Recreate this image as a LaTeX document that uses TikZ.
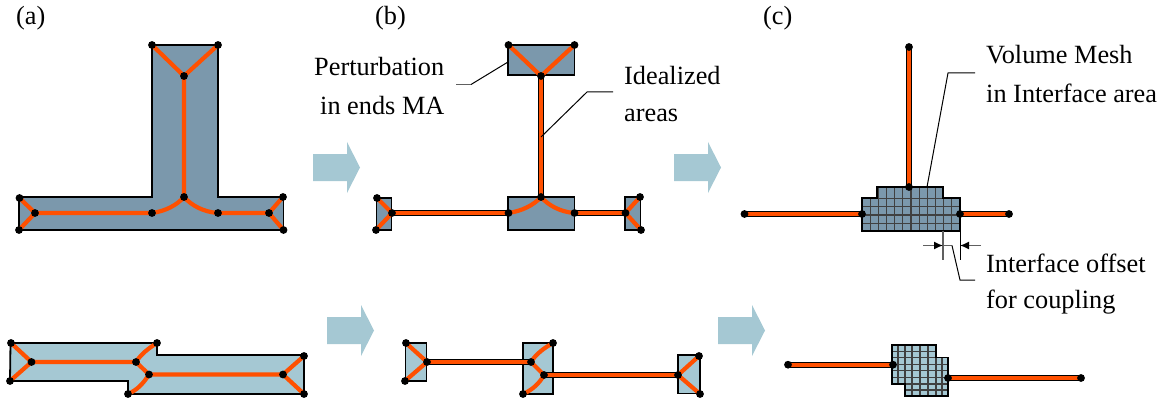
\documentclass[tikz,border=0pt]{standalone}
\usepackage{fontspec}
\setmainfont{Liberation Serif}
\usetikzlibrary{arrows.meta}
\definecolor{darkfill}{HTML}{7B98AC}
\definecolor{lightfill}{HTML}{A5C8D3}
\definecolor{flowcol}{HTML}{A5C8D3}
\definecolor{ma}{HTML}{FF5000}
\definecolor{leadgray}{HTML}{606060}
\tikzset{
  bodyd/.style={draw=black,line width=1.8pt,fill=darkfill},
  bodyl/.style={draw=black,line width=1.8pt,fill=lightfill},
  maline/.style={draw=ma,line width=4.2pt},
  idealout/.style={draw=black,line width=6.4pt},
  idealin/.style={draw=ma,line width=4.4pt},
  leader/.style={draw=black,line width=1pt},
  gridline/.style={draw=black!75,line width=1.2pt},
  dimgray/.style={draw=leadgray,line width=1.4pt},
  lab/.style={anchor=base west,inner sep=0pt,font=\fontsize{26.3}{30}\selectfont},
  flow/.style={fill=flowcol,draw=none},
}
\newcommand{\flowarrow}[2]{\fill[flow] (#1,#2-13.5) -- ++(34,0) -- ++(0,-12) -- ++(13,25.5) -- ++(-13,25.5) -- ++(0,-12) -- ++(-34,0) -- cycle;}
\newcommand{\madots}[1]{\foreach \n in {#1} \fill[black] (\n) circle (3.9pt);}
\begin{document}
\begin{tikzpicture}[x=1pt,y=-1pt]
\useasboundingbox (0,0) rectangle (1164,401);
% labels
\node[lab] (la) at (16,25) {(a)};
\node[lab] (lb) at (375,25) {(b)};
\node[lab] (lc) at (763,25) {(c)};
\node[lab] (t1) at (314,76) {Perturbation};
\node[lab] (t2) at (320,114) {in ends MA};
\node[lab] (t3) at (624,85) {Idealized};
\node[lab] (t4) at (624,122) {areas};
\node[lab] (t5) at (986,64) {Volume Mesh};
\node[lab] (t6) at (986,103) {in Interface area};
\node[lab] (t7) at (986,272) {Interface offset};
\node[lab] (t8) at (986,308) {for coupling};
% flow arrows
\flowarrow{313}{167.5}
\flowarrow{674}{167.5}
\flowarrow{327}{330.5}
\flowarrow{718}{330.5}
% (a) top
\coordinate (a1) at (152,45); \coordinate (a2) at (218,45); \coordinate (a3) at (184,76);
\coordinate (a4) at (184,197); \coordinate (a5) at (19.5,198); \coordinate (a6) at (19,230);
\coordinate (a7) at (35,213); \coordinate (a8) at (152,213); \coordinate (a9) at (218,213);
\coordinate (a10) at (269,213); \coordinate (a11) at (283,197); \coordinate (a12) at (283.5,230);
\draw[bodyd] (152,45) -- (218,45) -- (218,197) -- (283.5,197) -- (283.5,230) -- (19,230) -- (19,197) -- (152,197) -- cycle;
\draw[maline] (a1) -- (a3) -- (a2) (a3) -- (a4);
\draw[maline] (a5) -- (a7) -- (a6) (a7) -- (a8);
\draw[maline] (a8) .. controls (166,211) and (177,205) .. (a4);
\draw[maline] (a4) .. controls (191,205) and (203,212) .. (a9) -- (a10);
\draw[maline] (a11) -- (a10) -- (a12);
\madots{a1,a2,a3,a4,a5,a6,a7,a8,a9,a10,a11,a12}
% (b) top
\draw[bodyd] (508,45) rectangle (574.5,75);
\draw[bodyd] (508,197) rectangle (574.5,230);
\draw[bodyd] (376.5,198) rectangle (391.5,230);
\draw[bodyd] (625,197) rectangle (640.5,230);
\coordinate (b1) at (508.5,45); \coordinate (b2) at (574.5,45); \coordinate (b3) at (541,76);
\coordinate (b4) at (541,197); \coordinate (b5) at (508.5,213); \coordinate (b6) at (574.5,213);
\coordinate (b7) at (377,198); \coordinate (b8) at (376,230); \coordinate (b9) at (392,213);
\coordinate (b10) at (640,197); \coordinate (b11) at (641,230); \coordinate (b12) at (625.5,213);
\draw[idealout] (b3) -- (b4) (b9) -- (b5) (b6) -- (b12);
\draw[idealin] (b3) -- (b4) (b9) -- (b5) (b6) -- (b12);
\draw[maline] (b1) -- (b3) -- (b2);
\draw[maline] (b5) .. controls (522,211) and (534,205) .. (b4);
\draw[maline] (b4) .. controls (548,205) and (560,212) .. (b6);
\draw[maline] (b7) -- (b9) -- (b8) (b10) -- (b12) -- (b11);
\madots{b1,b2,b3,b4,b5,b6,b7,b8,b9,b10,b11,b12}
\coordinate (p1) at (508,62); \coordinate (p2) at (471,84.5); \coordinate (p3) at (455.5,84.5);
\draw[leader] (p1) -- (p2);
\draw[draw=leadgray,line width=1.2pt] (p2) -- (p3);
\coordinate (i1) at (541,137); \coordinate (i2) at (587,92); \coordinate (i3) at (613,92);
\draw[leader] (i1) -- (i2) -- (i3);
% (c) top
\coordinate (c1) at (909,47); \coordinate (c2) at (909,187); \coordinate (c3) at (744.5,214);
\coordinate (c4) at (862,214); \coordinate (c5) at (960,214); \coordinate (c6) at (1009,214);
\draw[idealout] (c1) -- (c2) (c3) -- (c4) (c5) -- (c6);
\draw[idealin] (c1) -- (c2) (c3) -- (c4) (c5) -- (c6);
\fill[darkfill] (877,187) -- (943,187) -- (943,198) -- (960,198) -- (960,231) -- (862,231) -- (862,198) -- (877,198) -- cycle;
\begin{scope}
\clip (877,187) -- (943,187) -- (943,198) -- (960,198) -- (960,231) -- (862,231) -- (862,198) -- (877,198) -- cycle;
\foreach \k in {1,...,11} \draw[gridline] ({862+\k*8.17},187) -- ({862+\k*8.17},231);
\foreach \yy in {198.3,206.7,215,223.3} \draw[gridline] (862,\yy) -- (960,\yy);
\end{scope}
\draw[draw=black,line width=1.8pt] (877,187) -- (943,187) -- (943,198) -- (960,198) -- (960,231) -- (862,231) -- (862,198) -- (877,198) -- cycle;
\madots{c1,c2,c3,c4,c5,c6}
\coordinate (v1) at (927,187); \coordinate (v2) at (948,73); \coordinate (v3) at (975,73);
\draw[leader] (v1) -- (v2) -- (v3);
% dimension
\coordinate (d1) at (943,231); \coordinate (d2) at (943,259.5);
\coordinate (d3) at (960,231); \coordinate (d4) at (960,259.5);
\coordinate (d5) at (923,245.5); \coordinate (d6) at (943,245.5);
\coordinate (d7) at (981,245.5); \coordinate (d8) at (960,245.5);
\coordinate (d9) at (952,245.5); \coordinate (d10) at (960,280); \coordinate (d11) at (975,280);
\draw[dimgray] (d1) -- (d2);
\draw[leader] (d3) -- (d4);
\draw[dimgray,-{Latex[length=9pt,width=8pt,black]}] (d5) -- (d6);
\draw[dimgray,-{Latex[length=9pt,width=8pt,black]}] (d7) -- (d8);
\draw[dimgray] (d6) -- (d9);
\draw[leader] (d9) -- (d10) -- (d11);
% (a) bottom
\draw[bodyl] (10.5,343) -- (157,343) -- (157,355) -- (304,355) -- (304,394) -- (128,394) -- (128,381) -- (10,381) -- cycle;
\coordinate (e1) at (11,343); \coordinate (e2) at (10,381); \coordinate (e3) at (31.5,362);
\coordinate (e4) at (136,362); \coordinate (e5) at (157,343); \coordinate (e6) at (149,374.5);
\coordinate (e7) at (128,394); \coordinate (e8) at (283,374.5); \coordinate (e9) at (304,356);
\coordinate (e10) at (304,394);
\draw[maline] (e1) -- (e3) -- (e2) (e3) -- (e4) -- (e6) -- (e8);
\draw[maline] (e4) .. controls (141,354) and (149,348) .. (e5);
\draw[maline] (e6) .. controls (143,384) and (137,390) .. (e7);
\draw[maline] (e9) -- (e8) -- (e10);
\madots{e1,e2,e3,e4,e5,e6,e7,e8,e9,e10}
% (b) bottom
\draw[bodyl] (405.5,343) rectangle (426.5,381);
\draw[bodyl] (523,343) rectangle (553,394);
\draw[bodyl] (678,355) rectangle (700,393.5);
\coordinate (f1) at (406,343); \coordinate (f2) at (405,381); \coordinate (f3) at (427,362);
\coordinate (f4) at (531,362); \coordinate (f5) at (553,343); \coordinate (f6) at (544,375);
\coordinate (f7) at (523,394); \coordinate (f8) at (678,375); \coordinate (f9) at (699,356);
\coordinate (f10) at (700,394);
\draw[idealout] (f3) -- (f4) (f6) -- (f8);
\draw[idealin] (f3) -- (f4) (f6) -- (f8);
\draw[maline] (f1) -- (f3) -- (f2) (f4) -- (f6);
\draw[maline] (f4) .. controls (536,354) and (544,348) .. (f5);
\draw[maline] (f6) .. controls (539,384) and (532,390) .. (f7);
\draw[maline] (f9) -- (f8) -- (f10);
\madots{f1,f2,f3,f4,f5,f6,f7,f8,f9,f10}
% (c) bottom
\coordinate (g1) at (788,364.7); \coordinate (g2) at (893,364.7);
\coordinate (g3) at (948,378); \coordinate (g4) at (1081,378);
\draw[idealout] (g1) -- (g2) (g3) -- (g4);
\draw[idealin] (g1) -- (g2) (g3) -- (g4);
\fill[lightfill] (892,345) -- (936,345) -- (936,357.5) -- (948,357.5) -- (948,396) -- (905,396) -- (905,384) -- (892,384) -- cycle;
\begin{scope}
\clip (892,345) -- (936,345) -- (936,357.5) -- (948,357.5) -- (948,396) -- (905,396) -- (905,384) -- (892,384) -- cycle;
\foreach \xx in {898,905,912,920,928,936,942} \draw[gridline] (\xx,345) -- (\xx,396);
\foreach \yy in {351.7,357.5,364.3,370.7,377.7,384,390} \draw[gridline] (892,\yy) -- (948,\yy);
\end{scope}
\draw[draw=black,line width=1.8pt] (892,345) -- (936,345) -- (936,357.5) -- (948,357.5) -- (948,396) -- (905,396) -- (905,384) -- (892,384) -- cycle;
\madots{g1,g2,g3,g4}
\end{tikzpicture}
\end{document}
